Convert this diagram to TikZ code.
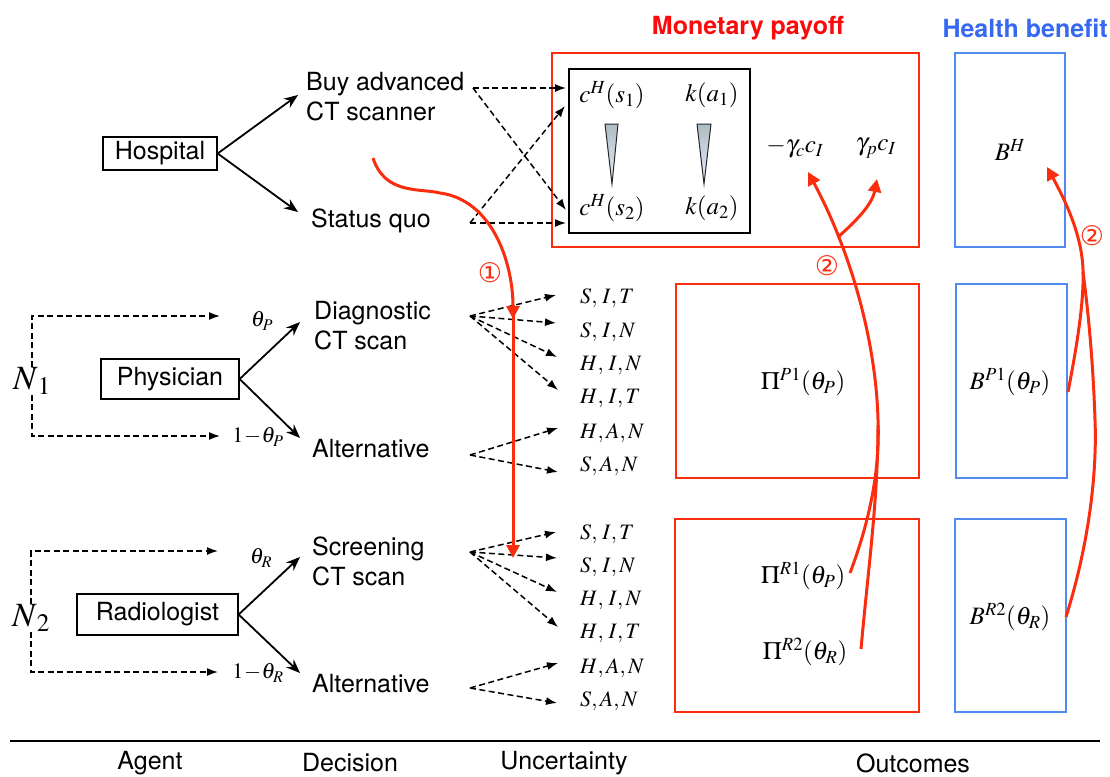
\documentclass[tikz,border=0pt]{standalone}
\usepackage{mathptmx}
\usepackage[no-math]{fontspec}
\setmainfont{TeX Gyre Heros}
\newfontfamily\djv{DejaVu Sans}
\usetikzlibrary{arrows.meta,shadings}
\definecolor{redc}{RGB}{250,45,15}
\definecolor{redt}{RGB}{250,10,10}
\definecolor{bluet}{RGB}{55,105,240}
\definecolor{blueb}{RGB}{80,140,240}
\definecolor{wedgetop}{RGB}{175,188,195}
\definecolor{wedgemid}{RGB}{200,212,240}
\definecolor{wedgebot}{RGB}{230,238,255}
\begin{document}
\begin{tikzpicture}[x=1pt,y=-1pt,
  font=\fontsize{25}{30}\selectfont,
  agentbox/.style={draw, line width=1.3pt, inner sep=0pt},
  decis/.style={anchor=west, align=left, inner sep=0pt},
  solidarr/.style={-{Stealth[length=14pt,width=11pt]}, line width=1.8pt},
  dasharr/.style={dash pattern=on 6pt off 3.5pt, line width=1.5pt, -{Latex[length=11pt,width=8pt]}},
  redline/.style={draw=redc, line width=3pt},
  redarr/.style={draw=redc, line width=3pt, -{Triangle[length=13pt,width=13pt,fill=redc]}},
  redbox/.style={draw=redc, line width=1.5pt, inner sep=0pt},
  bluebox/.style={draw=blueb, line width=2pt, inner sep=0pt},
  unc/.style={anchor=west, inner sep=0pt, font=\fontsize{22}{26}\selectfont},
  mlab/.style={inner sep=0pt, font=\fontsize{25}{30}\selectfont},
  prob/.style={inner sep=0pt, font=\fontsize{22}{26}\selectfont},
  circnum/.style={text=redc, inner sep=0pt, font=\djv\fontsize{27}{30}\selectfont},
  wedge/.style={top color=wedgetop, middle color=wedgemid, bottom color=wedgebot},
  axislab/.style={inner sep=0pt}
]
\useasboundingbox (0,0) rectangle (1110,776);

% headings
\node[text=redt, font=\bfseries\fontsize{25}{30}\selectfont] (hmon) at (748,28) {Monetary payoff};
\node[text=bluet, font=\bfseries\fontsize{25}{30}\selectfont, anchor=east, inner sep=0pt] (hhb) at (1108,28) {Health benefit};

% outcome boxes
\node[redbox, minimum width=367pt, minimum height=194pt] (rtop) at (735.5,150) {};
\node[bluebox, minimum width=110pt, minimum height=194pt] (btop) at (1010,150) {};
\node[redbox, minimum width=243pt, minimum height=194pt] (rmid) at (797.5,381) {};
\node[bluebox, minimum width=111pt, minimum height=194pt] (bmid) at (1011.5,381) {};
\node[redbox, minimum width=244pt, minimum height=193pt] (rbot) at (797,615.5) {};
\node[bluebox, minimum width=111pt, minimum height=193pt] (bbot) at (1010.5,615.5) {};

% inner hospital box
\node[draw, line width=1.6pt, minimum width=181pt, minimum height=164pt, inner sep=0pt] (ibox) at (659.5,151) {};
\node[mlab] (cs1) at (612,95) {$c^{H}(s_1)$};
\node[mlab] (ka1) at (712,95) {$k(a_1)$};
\node[mlab] (cs2) at (612,208) {$c^{H}(s_2)$};
\node[mlab] (ka2) at (712,208) {$k(a_2)$};
\shade[wedge] (605,124) -- (618,124) -- (612,184) -- cycle;
\draw[black!85, line width=1pt] (605,124) -- (618,124) -- (612,184) -- cycle;
\shade[wedge] (697,124) -- (711,124) -- (704,184) -- cycle;
\draw[black!85, line width=1pt] (697,124) -- (711,124) -- (704,184) -- cycle;

\node[mlab] (gc) at (795,148) {$-\gamma_{c}c_{I}$};
\node[mlab] (gp) at (876,148) {$\gamma_{p}c_{I}$};
\node[mlab] (bh) at (1010,150) {$B^{H}$};

\node[mlab] (pip1) at (803,382) {$\Pi^{P1}(\theta_{P})$};
\node[mlab] (bp1) at (1010,382) {$B^{P1}(\theta_{P})$};
\node[mlab] (pir1) at (803,576) {$\Pi^{R1}(\theta_{P})$};
\node[mlab] (pir2) at (805,652) {$\Pi^{R2}(\theta_{R})$};
\node[mlab] (br2) at (1010,617) {$B^{R2}(\theta_{R})$};

% agents
\node[agentbox, minimum width=114pt, minimum height=33pt] (hosp) at (160,153.5) {Hospital};
\node[agentbox, minimum width=138pt, minimum height=40pt] (phys) at (170,379) {Physician};
\node[agentbox, minimum width=161pt, minimum height=41pt] (radi) at (157.5,614.5) {Radiologist};

\node[inner sep=0pt, font=\fontsize{34}{36}\selectfont] (n1) at (32,381) {$N_{\,1}$};
\node[inner sep=0pt, font=\fontsize{34}{36}\selectfont] (n2) at (31,618) {$N_{\,2}$};

% decisions
\node[decis] (buy) at (306,97) {Buy advanced\\CT scanner};
\node[decis] (sq) at (311,221) {Status quo};
\node[decis] (diag) at (314,326) {Diagnostic\\CT scan};
\node[decis] (alt1) at (312,449) {Alternative};
\node[decis] (scr) at (312,561) {Screening\\CT scan};
\node[decis] (alt2) at (312,684) {Alternative};

% probabilities
\node[prob] (thp) at (262,321) {$\theta_{P}$};
\node[prob] (mthp) at (258,437) {$1\!-\!\theta_{P}$};
\node[prob] (thr) at (261,558) {$\theta_{R}$};
\node[prob] (mthr) at (258,673) {$1\!-\!\theta_{R}$};

% uncertainty labels
\node[unc] (u1) at (580,298) {$S,\,I,T$};
\node[unc] (u2) at (580,332) {$S,\,I,N$};
\node[unc] (u3) at (580,365) {$H,\,I,N$};
\node[unc] (u4) at (580,398) {$H,\,I,T$};
\node[unc] (u5) at (580,433) {$H,A,N$};
\node[unc] (u6) at (580,466) {$S,A,N$};
\node[unc] (v1) at (580,534) {$S,\,I,T$};
\node[unc] (v2) at (580,567) {$S,\,I,N$};
\node[unc] (v3) at (580,600) {$H,\,I,N$};
\node[unc] (v4) at (580,633) {$H,\,I,T$};
\node[unc] (v5) at (580,668) {$H,A,N$};
\node[unc] (v6) at (580,701) {$S,A,N$};

% coordinates for connector ends
\coordinate (hb1) at (298,95);
\coordinate (hb2) at (298,212);
\coordinate (pd1) at (300,322);
\coordinate (pd2) at (300,438);
\coordinate (rd1) at (300,557);
\coordinate (rd2) at (300,673);
\coordinate (tp1) at (220,316);
\coordinate (bp1c) at (220,436);
\coordinate (tr1) at (218,551);
\coordinate (br1c) at (218,672);
\coordinate (buyR) at (473,88);
\coordinate (sqR) at (470,223);
\coordinate (t1) at (566,88);
\coordinate (t2) at (566,210);
\coordinate (t3) at (566,223);
\coordinate (t4) at (565,106);
\coordinate (dO) at (470,316);
\coordinate (aO) at (470,455);
\coordinate (sO) at (470,552);
\coordinate (bO) at (470,688);

% solid arrows
\draw[solidarr] (hosp.east) -- (hb1);
\draw[solidarr] (hosp.east) -- (hb2);
\draw[solidarr] (phys.east) -- (pd1);
\draw[solidarr] (phys.east) -- (pd2);
\draw[solidarr] (radi.east) -- (rd1);
\draw[solidarr] (radi.east) -- (rd2);

% dashed N arrows
\draw[dasharr] (n1.north) |- (tp1);
\draw[dasharr] (n1.south) |- (bp1c);
\draw[dasharr] (n2.north) |- (tr1);
\draw[dasharr] (n2.south) |- (br1c);

% hospital dashed
\draw[dasharr] (buyR) -- (t1);
\draw[dasharr] (buyR) -- (t2);
\draw[dasharr] (sqR) -- (t3);
\draw[dasharr] (sqR) -- (t4);

% uncertainty dashed
\draw[dasharr] (dO) -- (556,295);
\draw[dasharr] (dO) -- (556,323);
\draw[dasharr] (dO) -- (557,357);
\draw[dasharr] (dO) -- (558,390);
\draw[dasharr] (aO) -- (558,428);
\draw[dasharr] (aO) -- (558,472);
\draw[dasharr] (sO) -- (556,532);
\draw[dasharr] (sO) -- (557,558);
\draw[dasharr] (sO) -- (557,592);
\draw[dasharr] (sO) -- (558,627);
\draw[dasharr] (bO) -- (558,663);
\draw[dasharr] (bO) -- (557,703);

% red arrow 1
\draw[redarr] (373,158) .. controls (385,195) and (420,188) .. (440,193) .. controls (492,200) and (513,262) .. (513,319);
\draw[redarr] (513,305) -- (513,558);
\node[circnum] (c1) at (490,273) {①};

% red arrows 2 (monetary)
\draw[redarr] (850,573) .. controls (870,520) and (880,470) .. (878,420) .. controls (876,340) and (850,250) .. (808,172);
\draw[redline] (861,649) .. controls (868,570) and (878,500) .. (878,425);
\draw[redarr] (838,237) .. controls (855,222) and (872,205) .. (877,179);
\node[circnum] (c2) at (827,266) {②};

% red arrows 2 (health)
\draw[redarr] (1068,392) .. controls (1078,340) and (1084,300) .. (1083,270) .. controls (1082,235) and (1065,200) .. (1047,167);
\draw[redline] (1066,617) .. controls (1090,540) and (1097,470) .. (1095,420) .. controls (1093,360) and (1088,310) .. (1083,272);
\node[circnum] (c3) at (1092,236) {②};

% bottom axis
\coordinate (axL) at (10,741);
\coordinate (axR) at (1100,741);
\draw[line width=1.5pt] (axL) -- (axR);
\node[axislab] (lagent) at (150,763) {Agent};
\node[axislab] (ldec) at (350,763) {Decision};
\node[axislab] (lunc) at (564,763) {Uncertainty};
\node[axislab] (lout) at (913,763) {Outcomes};
\end{tikzpicture}
\end{document}
